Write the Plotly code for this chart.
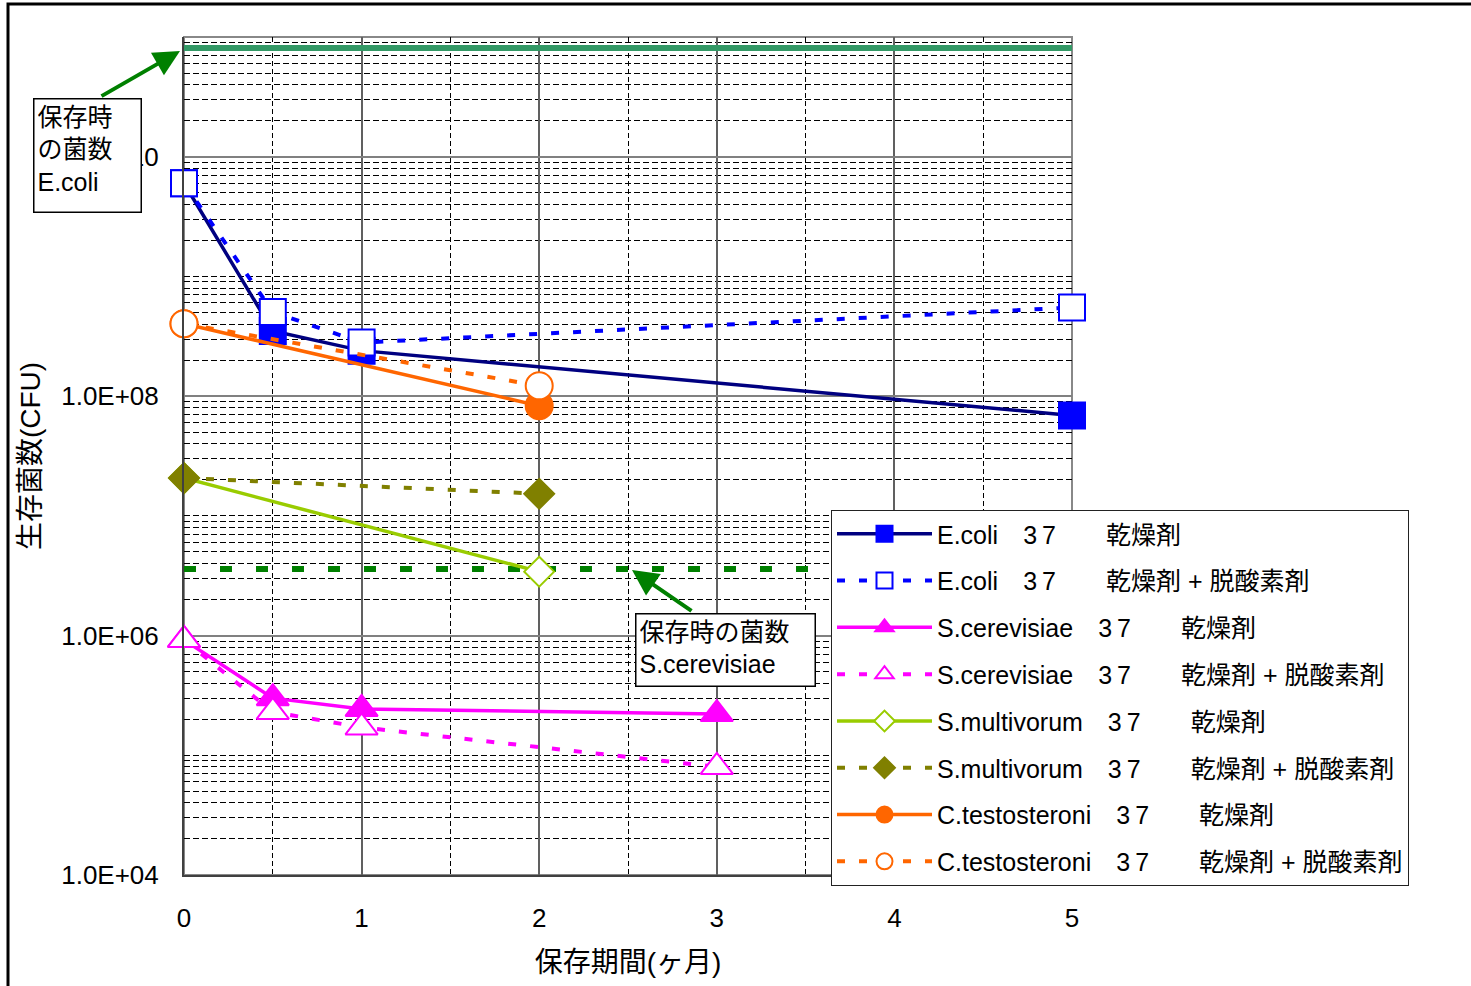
import plotly.graph_objects as go

# storage period (months) and surviving cell counts (CFU)
ecoli_x = [0, 0.5, 1, 5]
ecoli_dry = [6.0e9, 3.5e8, 2.4e8, 6.9e7]
ecoli_dry_ox = [6.0e9, 5.05e8, 2.8e8, 5.5e8]

scer_x = [0, 0.5, 1, 3]
scer_dry = [9.2e5, 3.0e5, 2.44e5, 2.21e5]
scer_dry_ox = [9.2e5, 2.3e5, 1.71e5, 8.0e4]

smul_x = [0, 2]
smul_dry = [2.07e7, 3.42e6]
smul_dry_ox = [2.07e7, 1.53e7]

ctes_x = [0, 2]
ctes_dry = [4.03e8, 8.3e7]
ctes_dry_ox = [4.03e8, 1.22e8]

# counts at the start of storage
ref_x = [0, 5]
ecoli_initial = 8.1e10
scer_initial = 3.6e6

y_tickvals = [1e4, 1e6, 1e8, 1e10]
y_ticktext = ["1.0E+04", "1.0E+06", "1.0E+08", "1.0E+10"]
x_tickvals = [0, 1, 2, 3, 4, 5]

SP = "\u3000"
NB = "\u00a0"
D37 = "3\u20097"
DRY = "乾燥剤"
DRY_OX = "乾燥剤" + NB + "+" + NB + "脱酸素剤"

FONT = "Liberation Sans, Arial, Noto Sans CJK JP"

fig = go.Figure()

# reference levels
fig.add_trace(go.Scatter(x=ref_x, y=[ecoli_initial] * 2, mode="lines",
                         line=dict(color="#339966", width=6), showlegend=False,
                         hoverinfo="skip", cliponaxis=False))
fig.add_trace(go.Scatter(x=ref_x, y=[scer_initial] * 2, mode="lines",
                         line=dict(color="#008000", width=6, dash="12px,24px"),
                         showlegend=False, hoverinfo="skip"))

DASH = "8px,14px"


def series(x, y, name, lcolor, dash, symbol, mcolor, mline, size, group, lw):
    fig.add_trace(go.Scatter(
        x=x, y=y, name=name, mode="lines+markers", legendgroup=group,
        cliponaxis=False,
        line=dict(color=lcolor, width=lw, dash=dash),
        marker=dict(symbol=symbol, size=size, color=mcolor,
                    line=dict(color=mline, width=2)),
    ))


series(ecoli_x, ecoli_dry, "E.coli" + SP + D37 + SP + SP + DRY,
       "#000080", "solid", "square", "#0000FF", "#0000FF", 26, "g1", 3.5)
series(ecoli_x, ecoli_dry_ox, "E.coli" + SP + D37 + SP + SP + DRY_OX,
       "#0000FF", DASH, "square", "#FFFFFF", "#0000FF", 26, "g2", 4)
series(scer_x, scer_dry, "S.cerevisiae" + SP + D37 + SP + SP + DRY,
       "#FF00FF", "solid", "triangle-up", "#FF00FF", "#FF00FF", 28, "g3", 3.5)
series(scer_x, scer_dry_ox, "S.cerevisiae" + SP + D37 + SP + SP + DRY_OX,
       "#FF00FF", DASH, "triangle-up", "#FFFFFF", "#FF00FF", 28, "g4", 4)
series(smul_x, smul_dry, "S.multivorum" + SP + D37 + SP + SP + DRY,
       "#99CC00", "solid", "diamond", "#FFFFFF", "#99CC00", 23, "g5", 3.5)
series(smul_x, smul_dry_ox, "S.multivorum" + SP + D37 + SP + SP + DRY_OX,
       "#808000", DASH, "diamond", "#808000", "#808000", 23, "g6", 4)
series(ctes_x, ctes_dry, "C.testosteroni" + SP + D37 + SP + SP + DRY,
       "#FF6600", "solid", "circle", "#FF6600", "#FF6600", 27, "g7", 3.5)
series(ctes_x, ctes_dry_ox, "C.testosteroni" + SP + D37 + SP + SP + DRY_OX,
       "#FF6600", DASH, "circle", "#FFFFFF", "#FF6600", 27, "g8", 4)

L, R, T, B = 184, 399, 37, 111
W, H = 1471, 986
PW, PH = W - L - R, H - T - B


def px(xp):
    return (xp - L) / PW


def py(yp):
    return (H - B - yp) / PH


fig.update_layout(
    width=W, height=H,
    margin=dict(l=L, r=R, t=T, b=B),
    paper_bgcolor="white", plot_bgcolor="white",
    font=dict(family=FONT, size=24, color="black"),
    showlegend=True,
    legend=dict(
        x=px(831), y=py(510), xanchor="left", yanchor="top",
        bgcolor="white", bordercolor="#222222", borderwidth=1,
        font=dict(family=FONT, size=25, color="black"),
        itemwidth=95, tracegroupgap=11.3, traceorder="grouped",
    ),
    xaxis=dict(
        range=[0, 5], tickmode="array", tickvals=x_tickvals,
        showgrid=True, gridcolor="#606060", gridwidth=1.5,
        minor=dict(dtick=0.5, showgrid=True, gridcolor="#000000",
                   griddash="5px,3px", gridwidth=1),
        showline=True, linecolor="#404040", linewidth=2,
        ticks="", ticklabelstandoff=19,
        tickfont=dict(family=FONT, size=26),
        title=dict(text="保存期間(ヶ月)", font=dict(family=FONT, size=28),
                   standoff=20),
        zeroline=False,
    ),
    yaxis=dict(
        type="log", range=[4, 11], tickmode="array",
        tickvals=y_tickvals, ticktext=y_ticktext,
        showgrid=True, gridcolor="#808080", gridwidth=1.5,
        minor=dict(dtick="D1", showgrid=True, gridcolor="#000000",
                   griddash="6px,3px", gridwidth=1),
        showline=True, linecolor="#404040", linewidth=2,
        ticks="", ticklabelstandoff=18,
        tickfont=dict(family=FONT, size=26),
        title=dict(text="生存菌数(CFU)", font=dict(family=FONT, size=28),
                   standoff=12),
        zeroline=False,
    ),
    shapes=[
        dict(type="rect", xref="x domain", yref="y domain", x0=0, x1=1,
             y0=0, y1=1, line=dict(color="#888888", width=2), layer="below"),
        dict(type="rect", xref="paper", yref="paper", x0=px(8), x1=px(1500),
             y0=py(1010), y1=py(4), line=dict(color="black", width=3)),
    ],
    annotations=[
        dict(xref="paper", yref="paper", x=px(87), y=py(155),
             xanchor="center", yanchor="middle", align="left", valign="top",
             text="保存時<br>の菌数<br>E.coli", showarrow=False,
             width=100, height=106, borderpad=3, borderwidth=1.5,
             bordercolor="black", bgcolor="white",
             font=dict(family=FONT, size=25)),
        dict(xref="paper", yref="paper", x=px(180), y=py(51), text="",
             showarrow=True, ax=100 - 180, ay=97 - 51, axref="pixel",
             ayref="pixel", arrowcolor="#008000", arrowwidth=4,
             arrowhead=2, arrowsize=1.3, standoff=0, startstandoff=0),
        dict(xref="paper", yref="paper", x=px(725), y=py(649.5),
             xanchor="center", yanchor="middle", align="left", valign="top",
             text="保存時の菌数<br>S.cerevisiae", showarrow=False,
             width=172, height=65, borderpad=3, borderwidth=1.5,
             bordercolor="black", bgcolor="white",
             font=dict(family=FONT, size=25)),
        dict(xref="paper", yref="paper", x=px(632), y=py(570), text="",
             showarrow=True, ax=693 - 632, ay=612 - 570, axref="pixel",
             ayref="pixel", arrowcolor="#008000", arrowwidth=4,
             arrowhead=2, arrowsize=1.3, standoff=0, startstandoff=0),
    ],
)

fig.write_html("out.html")
